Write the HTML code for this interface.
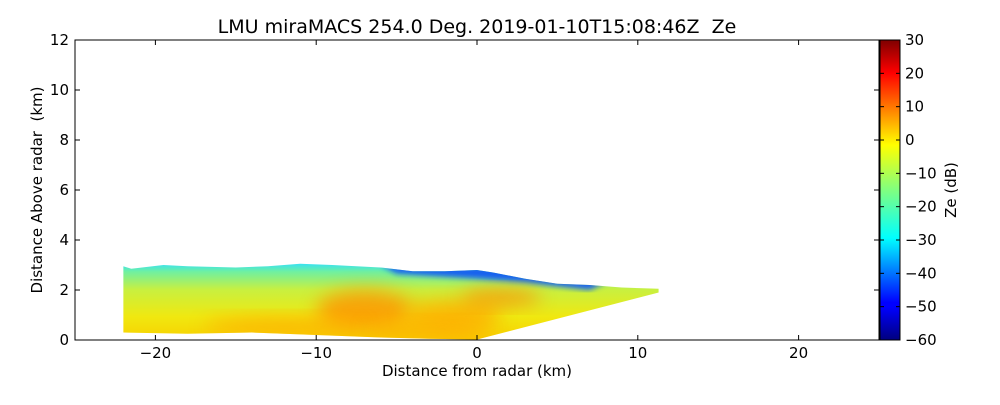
<!DOCTYPE html>
<html><head><meta charset="utf-8"><style>
body{margin:0;background:#fff;font-family:"Liberation Sans","DejaVu Sans",sans-serif}
svg text{font-family:"DejaVu Sans","Liberation Sans",sans-serif}
</style></head><body>
<svg id="c" width="1000" height="400" xmlns="http://www.w3.org/2000/svg">
<defs>
<linearGradient id="jet" x1="0" y1="1" x2="0" y2="0">
<stop offset="0" stop-color="#00007f"/><stop offset="0.11" stop-color="#0000ff"/><stop offset="0.125" stop-color="#0000ff"/>
<stop offset="0.34" stop-color="#00ffff"/><stop offset="0.5" stop-color="#80ff80"/><stop offset="0.65" stop-color="#ffff00"/>
<stop offset="0.89" stop-color="#ff0000"/><stop offset="1" stop-color="#7f0000"/></linearGradient>
<linearGradient id="vert" x1="0" y1="0" x2="0" y2="1">
<stop offset="0" stop-color="#30e0ff"/><stop offset="0.12" stop-color="#70f0a0"/><stop offset="0.35" stop-color="#c8f040"/><stop offset="0.7" stop-color="#f0e810"/><stop offset="1" stop-color="#f8d000"/></linearGradient>
<filter id="blur" x="-50%" y="-50%" width="200%" height="200%"><feGaussianBlur stdDeviation="9"/></filter>
<filter id="blur2"><feGaussianBlur stdDeviation="3"/></filter>
<clipPath id="shapeClip"><polygon id="clipPoly"/></clipPath>
</defs>
<g id="plot"></g>
<text x="477" y="33" font-size="19" text-anchor="middle" xml:space="preserve">LMU miraMACS 254.0 Deg. 2019-01-10T15:08:46Z  Ze</text>
<text x="477" y="376" font-size="15" text-anchor="middle">Distance from radar (km)</text>
<text transform="translate(42,190) rotate(-90)" font-size="15" text-anchor="middle" xml:space="preserve">Distance Above radar  (km)</text>
<text transform="translate(956,190) rotate(-90)" font-size="15" text-anchor="middle">Ze (dB)</text>
</svg>
<script>
const xTicks=[-20,-10,0,10,20];
const yTicks=[0,2,4,6,8,10,12];
const cbTicks=[30,20,10,0,-10,-20,-30,-40,-50,-60];
// echo outline (km)
const topX=[-22,-21.5,-19.5,-18,-15,-13,-11,-9,-6,-4,-2,0,1,3,5,7,9,11.3];
const topY=[2.95,2.85,3.0,2.95,2.9,2.95,3.05,3.0,2.9,2.75,2.75,2.8,2.7,2.45,2.25,2.2,2.1,2.05];
const botX=[11.3,0,-3,-6,-10,-14,-18,-22];
const botY=[1.9,0.02,0.05,0.1,0.2,0.3,0.25,0.3];
// strong echo cores: x, y (km), rx, ry (km), dBZ
const coreX=[-7,-1.5,1.5,-12,-3];
const coreY=[1.2,1.0,1.7,0.55,0.4];
const coreRX=[3,3,2.5,5,4];
const coreRY=[0.8,0.6,0.35,0.35,0.35];
const coreV=[8,6,10,4,5];
const xmin=-25,xmax=25,ymin=0,ymax=12,X0=75,X1=879,Y0=340,Y1=40;
const sx=v=>X0+(v-xmin)/(xmax-xmin)*(X1-X0);
const sy=v=>Y0-(v-ymin)/(ymax-ymin)*(Y0-Y1);
const NS="http://www.w3.org/2000/svg";
const plot=document.getElementById('plot');
function mk(t,a,p){const e=document.createElementNS(NS,t);for(const k in a)e.setAttribute(k,a[k]);(p||plot).appendChild(e);return e;}
const pts=topX.map((x,i)=>sx(x)+','+sy(topY[i])).concat(botX.map((x,i)=>sx(x)+','+sy(botY[i]))).join(' ');
document.getElementById('clipPoly').setAttribute('points',pts);
const g=mk('g',{});
g.setAttribute('clip-path','url(#shapeClip)');


mk('rect',{x:sx(-22),y:sy(3.1),width:sx(11.3)-sx(-22),height:sy(0)-sy(3.1),fill:'url(#vert)'},g);
const fr=mk('path',{d:'M'+sx(-6)+','+sy(3.0)+' L'+sx(3)+','+sy(2.9)+' L'+sx(8)+','+sy(2.3)+' L'+sx(7)+','+sy(2.0)+' L'+sx(3)+','+sy(2.3)+' L'+sx(0)+','+sy(2.45)+' L'+sx(-5)+','+sy(2.65)+'Z',fill:'#1860f0',filter:'url(#blur2)'},g);


const col=v=>{const t=(v+60)/90;return t>0.74?'#ff8c00':'#ffa800';};
coreX.forEach((x,i)=>{const e=mk('ellipse',{cx:sx(x),cy:sy(coreY[i]),rx:coreRX[i]*16.08,ry:coreRY[i]*25,fill:col(coreV[i]),opacity:0.75,filter:'url(#blur)'},g);

});
const fr2=mk('rect',{x:X0,y:Y1,width:X1-X0,height:Y0-Y1,fill:'none',stroke:'#000','stroke-width':1});


xTicks.forEach(v=>{const x=sx(v);mk('line',{x1:x,x2:x,y1:Y0,y2:Y0-5,stroke:'#000'});mk('line',{x1:x,x2:x,y1:Y1,y2:Y1+5,stroke:'#000'});
const t=mk('text',{x:x,y:358,'font-size':15,'text-anchor':'middle'});t.textContent=(v<0?'\u2212':'')+Math.abs(v);

});
yTicks.forEach(v=>{const y=sy(v);mk('line',{x1:X0,x2:X0+5,y1:y,y2:y,stroke:'#000'});mk('line',{x1:X1,x2:X1-5,y1:y,y2:y,stroke:'#000'});
const t=mk('text',{x:69,y:y+5,'font-size':15,'text-anchor':'end'});t.textContent=v;

});
const cb=mk('rect',{x:880,y:40,width:20,height:300,fill:'url(#jet)',stroke:'#000'});


const cy=v=>40+(30-v)/90*300;
cbTicks.forEach(v=>{const y=cy(v);mk('line',{x1:880,x2:884,y1:y,y2:y,stroke:'#000'});mk('line',{x1:900,x2:896,y1:y,y2:y,stroke:'#000'});
const t=mk('text',{x:905,y:y+5,'font-size':15});t.textContent=(v<0?'\u2212':'')+Math.abs(v);

});
</script>
</body></html>
